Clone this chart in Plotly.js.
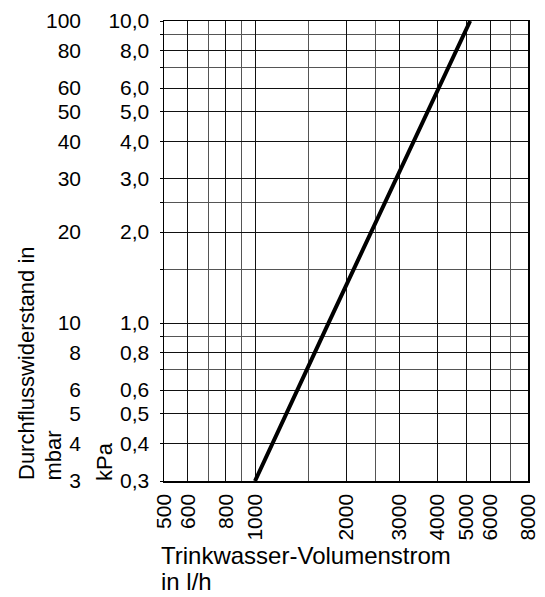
<!DOCTYPE html>
<html>
<head>
<meta charset="utf-8">
<script src="https://cdn.plot.ly/plotly-3.0.1.min.js"></script>
<style>html,body{margin:0;padding:0;background:#fff;}</style>
</head>
<body>
<div id="chart" style="width:545px;height:597px;"></div>
<script>
// Data
const flowLh = [1000, 1750, 5150];          // Trinkwasser-Volumenstrom in l/h
const dropMbar = [3, 10, 100];               // Durchflusswiderstand in mbar

// Axis ticks
const xTickVals = [500, 600, 800, 1000, 2000, 3000, 4000, 5000, 6000, 8000];
const xTickText = ["500", "600", "800", "1000", "2000", "3000", "4000", "5000", "6000", "8000"];
const xMinorVals = [700, 900, 1500, 2500, 7000];
const yTickVals = [3, 4, 5, 6, 8, 10, 20, 30, 40, 50, 60, 80, 100];
const yTickMbar = ["3", "4", "5", "6", "8", "10", "20", "30", "40", "50", "60", "80", "100"];
const yTickKpa = ["0,3", "0,4", "0,5", "0,6", "0,8", "1,0", "2,0", "3,0", "4,0", "5,0", "6,0", "8,0", "10,0"];
const yMinorVals = [7, 9, 15, 25, 70, 90];

const FONT = "Liberation Sans, Arial, sans-serif";
const W = 545, H = 597;
const mL = 10, mR = 17, mT = 21, mB = 116;
const pw = W - mL - mR, ph = H - mT - mB;
const px = v => (v - mL) / pw;          // pixel x -> paper x
const py = v => (H - mB - v) / ph;      // pixel y -> paper y

const traces = [
  {
    x: flowLh, y: dropMbar, type: "scatter", mode: "lines",
    line: {color: "#000", width: 4}, hoverinfo: "skip", showlegend: false
  },
  {
    x: flowLh, y: dropMbar, type: "scatter", mode: "lines", yaxis: "y2",
    line: {color: "rgba(0,0,0,0)", width: 0}, hoverinfo: "skip", showlegend: false
  }
];

const layout = {
  width: W, height: H, autosize: false,
  margin: {l: mL, r: mR, t: mT, b: mB, pad: 0},
  paper_bgcolor: "#fff", plot_bgcolor: "#fff",
  font: {family: FONT, size: 21, color: "#000"},
  showlegend: false,
  xaxis: {
    type: "log", range: [Math.log10(500), Math.log10(8000)],
    domain: [px(164), 1],
    tickmode: "array", tickvals: xTickVals, ticktext: xTickText,
    tickangle: -90, ticks: "", ticklabelstandoff: 3,
    tickfont: {family: FONT, size: 21, color: "#000"},
    showgrid: true, gridcolor: "#111", gridwidth: 1,
    minor: {tickvals: xMinorVals, showgrid: true, gridcolor: "#555", gridwidth: 1, ticks: ""},
    showline: true, linecolor: "#000", linewidth: 1.5, mirror: true,
    zeroline: false, fixedrange: true
  },
  yaxis: {
    type: "log", range: [Math.log10(3), 2],
    tickmode: "array", tickvals: yTickVals, ticktext: yTickKpa,
    ticks: "outside", ticklen: 3, tickcolor: "#000", tickwidth: 1,
    ticklabelstandoff: 6,
    tickfont: {family: FONT, size: 21, color: "#000"},
    showgrid: true, gridcolor: "#111", gridwidth: 1,
    minor: {tickvals: yMinorVals, showgrid: true, gridcolor: "#555", gridwidth: 1,
            ticks: "outside", ticklen: 3, tickcolor: "#000"},
    showline: true, linecolor: "#000", linewidth: 1.5, mirror: true,
    zeroline: false, fixedrange: true
  },
  yaxis2: {
    type: "log", range: [Math.log10(3), 2],
    overlaying: "y", anchor: "free", side: "left", position: px(81),
    tickmode: "array", tickvals: yTickVals, ticktext: yTickMbar,
    ticks: "", showline: false, showgrid: false, zeroline: false,
    tickfont: {family: FONT, size: 21, color: "#000"},
    fixedrange: true
  },
  annotations: [
    {text: "Durchflusswiderstand in", xref: "paper", yref: "paper",
     x: px(26), y: py(482), xanchor: "center", yanchor: "bottom",
     textangle: -90, showarrow: false, font: {family: FONT, size: 22, color: "#000"}},
    {text: "mbar", xref: "paper", yref: "paper",
     x: px(52.5), y: py(483), xanchor: "center", yanchor: "bottom",
     textangle: -90, showarrow: false, font: {family: FONT, size: 22, color: "#000"}},
    {text: "kPa", xref: "paper", yref: "paper",
     x: px(104.5), y: py(483), xanchor: "center", yanchor: "bottom",
     textangle: -90, showarrow: false, font: {family: FONT, size: 22, color: "#000"}},
    {text: "Trinkwasser-Volumenstrom", xref: "paper", yref: "paper",
     x: px(159), y: py(555), xanchor: "left", yanchor: "middle",
     showarrow: false, font: {family: FONT, size: 24, color: "#000"}},
    {text: "in l/h", xref: "paper", yref: "paper",
     x: px(159), y: py(581), xanchor: "left", yanchor: "middle",
     showarrow: false, font: {family: FONT, size: 24, color: "#000"}}
  ]
};

Plotly.newPlot("chart", traces, layout, {staticPlot: true, displayModeBar: false});
</script>
</body>
</html>
